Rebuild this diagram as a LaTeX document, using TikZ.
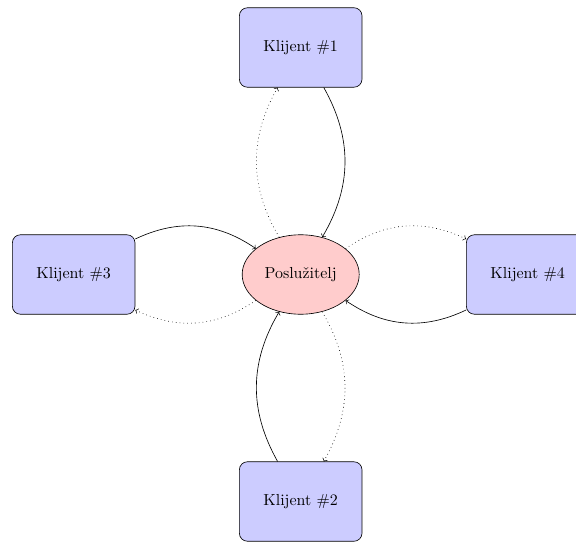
\documentclass[tikz,border=0pt]{standalone}
\usetikzlibrary{shapes.geometric}
\begin{document}
\begin{tikzpicture}[
  klijent/.style={draw, rounded corners=5pt, fill=blue!20,
    minimum width=2.7cm, minimum height=1.75cm},
  posluzitelj/.style={draw, ellipse, fill=red!20,
    minimum width=2.57cm, minimum height=1.75cm},
  zahtjev/.style={->, bend left},
  odgovor/.style={->, dotted, bend left}
]
\useasboundingbox (-6.623,-5.870) rectangle (6.064,6.046);

\node[posluzitelj] (s) at (0,0) {Poslužitelj};
\node[klijent] (k1) at (0,5) {Klijent \#1};
\node[klijent] (k2) at (0,-5) {Klijent \#2};
\node[klijent] (k3) at (-5,0) {Klijent \#3};
\node[klijent] (k4) at (5,0) {Klijent \#4};

\foreach \k in {k1,k2,k3,k4} {
  \draw (\k) edge[zahtjev] (s);
  \draw (s) edge[odgovor] (\k);
}
\end{tikzpicture}
\end{document}
